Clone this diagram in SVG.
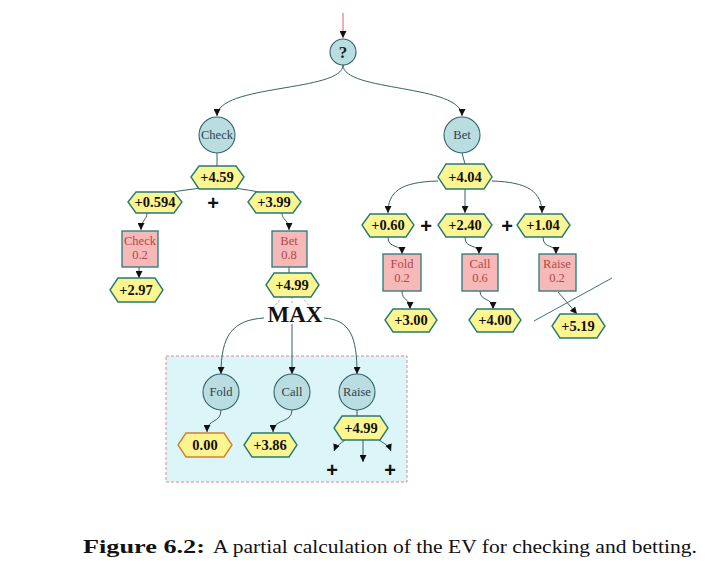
<svg xmlns="http://www.w3.org/2000/svg" width="706" height="570" viewBox="0 0 706 570">
<style>
.circ{fill:#b9dde0;stroke:#35626a;stroke-width:1.1}
.ctext{font-family:"Liberation Serif",serif;font-size:12.5px;fill:#2f3f4a;text-anchor:middle}
.hex{fill:#fdf590;stroke:#257a78;stroke-width:1.4}
.htext{font-family:"Liberation Serif",serif;font-size:14.5px;font-weight:bold;fill:#111;text-anchor:middle}
.rect{fill:#f7b8b8;stroke:#257a78;stroke-width:1.3}
.rtext{font-family:"Liberation Serif",serif;font-size:12.5px;fill:#b04848;text-anchor:middle}
.plus{font-family:"Liberation Sans",sans-serif;font-size:20px;font-weight:bold;fill:#111;text-anchor:middle}
.edge{fill:none;stroke:#3d5f63;stroke-width:1}
.arr{fill:none;stroke:#3d5f63;stroke-width:1;marker-end:url(#ah)}
.dot{fill:none;stroke:#8a9a9a;stroke-width:0.8;stroke-dasharray:2 2}
</style>
<defs>
<marker id="ah" viewBox="0 0 10 10" refX="10" refY="5" markerWidth="7" markerHeight="7" markerUnits="userSpaceOnUse" orient="auto">
<path d="M0,0 L10,5 L0,10 z" fill="#111"/>
</marker>
</defs>
<rect width="706" height="570" fill="#ffffff"/>
<rect id="maxbox" x="166" y="356" width="241" height="126" fill="#dcf5f8" stroke="#e08a8a" stroke-width="1" stroke-dasharray="3 2"/>

<g id="connectors">
<line class="arr" x1="343" y1="13" x2="343" y2="38" style="stroke:#e06060"/>
<path class="arr" d="M343,65 C343,92 217,84 217,116"/>
<path class="arr" d="M343,65 C343,92 462,84 462,116"/>
<line class="edge" x1="217" y1="153" x2="217" y2="166"/>
<line class="edge" x1="462" y1="153" x2="465" y2="164"/>
<path class="edge" d="M200,188 C190,190 180,190 170,193"/>
<path class="edge" d="M235,188 C245,190 252,190 262,193"/>
<path class="arr" d="M147,213 C147,220 141,220 141,230"/>
<line class="arr" x1="139" y1="267" x2="139" y2="278"/>
<path class="arr" d="M282,213 C282,220 289,220 289,230"/>
<line class="edge" x1="289" y1="267" x2="289" y2="273"/>
<path class="dot" d="M282,297 L270,312 M292,297 L292,305 M302,297 L314,312"/>
<path class="arr" d="M264,318 C232,320 221,336 221,374"/>
<line class="arr" x1="292" y1="324" x2="292" y2="374"/>
<path class="arr" d="M324,318 C350,320 357,336 357,374"/>
<path class="arr" d="M221,410 C221,424 207,418 207,432"/>
<path class="arr" d="M292,410 C292,424 273,418 273,432"/>
<line class="edge" x1="357" y1="410" x2="357" y2="416"/>
<path class="arr" d="M345,440 C340,444 336,446 334,451"/>
<line class="arr" x1="363" y1="440" x2="363" y2="462"/>
<path class="arr" d="M379,440 C385,444 389,446 391,451"/>
<path class="arr" d="M438,181 C400,182 388,192 388,213"/>
<line class="arr" x1="465" y1="189" x2="465" y2="213"/>
<path class="arr" d="M492,181 C528,182 542,192 542,213"/>
<path class="arr" d="M388,237 C388,250 402,243 402,254"/>
<path class="arr" d="M465,237 C465,250 479,243 479,254"/>
<path class="arr" d="M543,237 C543,250 556,243 556,254"/>
<path class="arr" d="M402,291 C402,302 410,297 410,309"/>
<path class="arr" d="M480,291 C480,302 493,297 493,309"/>
<line class="arr" x1="558" y1="292" x2="577" y2="314"/>
<line x1="534" y1="321" x2="612" y2="278" stroke="#3d6f80" stroke-width="1"/>
</g>

<g id="root"><circle class="circ" cx="343" cy="52" r="13"/><text x="343" y="58" class="ctext" style="font-size:17px;font-weight:bold;fill:#222">?</text></g>
<g id="check"><circle class="circ" cx="217" cy="135" r="18"/><text x="217" y="139" class="ctext">Check</text></g>
<g id="bet"><circle class="circ" cx="462" cy="135" r="18"/><text x="462" y="139" class="ctext">Bet</text></g>

<g id="v459"><polygon class="hex" points="191,177 199,166 236,166 244,177 236,189 199,189"/><text x="217" y="182" class="htext">+4.59</text></g>
<g id="v0594"><polygon class="hex" points="128,202 136,192 174,192 182,202 174,213 136,213"/><text x="155" y="207" class="htext">+0.594</text></g>
<g id="v399"><polygon class="hex" points="248,202 256,192 293,192 301,202 293,213 256,213"/><text x="274" y="207" class="htext">+3.99</text></g>
<text class="plus" x="213" y="210">+</text>
<g id="pcheck"><rect class="rect" x="122" y="231" width="36" height="36"/><text x="140" y="245" class="rtext">Check</text><text x="140" y="259" class="rtext">0.2</text></g>
<g id="pbet"><rect class="rect" x="272" y="231" width="35" height="36"/><text x="289" y="245" class="rtext">Bet</text><text x="289" y="259" class="rtext">0.8</text></g>
<g id="v297"><polygon class="hex" points="110,290 118,278 155,278 163,290 155,302 118,302"/><text x="136" y="295" class="htext">+2.97</text></g>
<g id="v499a"><polygon class="hex" points="266,285 274,273 311,273 319,285 311,297 274,297"/><text x="292" y="290" class="htext">+4.99</text></g>
<text id="max" x="295" y="322" font-family="Liberation Serif,serif" font-size="23" font-weight="bold" fill="#111" text-anchor="middle">MAX</text>

<g id="fold"><circle class="circ" cx="221" cy="392" r="18"/><text x="221" y="396" class="ctext">Fold</text></g>
<g id="call"><circle class="circ" cx="292" cy="392" r="18"/><text x="292" y="396" class="ctext">Call</text></g>
<g id="raise"><circle class="circ" cx="357" cy="392" r="18"/><text x="357" y="396" class="ctext">Raise</text></g>
<g id="v000"><polygon class="hex" points="178,445 186,433 224,433 232,445 224,457 186,457" style="stroke:#d08030"/><text x="205" y="450" class="htext">0.00</text></g>
<g id="v386"><polygon class="hex" points="244,445 252,433 289,433 297,445 289,457 252,457"/><text x="270" y="450" class="htext">+3.86</text></g>
<g id="v499b"><polygon class="hex" points="334,428 342,416 380,416 388,428 380,440 342,440"/><text x="361" y="433" class="htext">+4.99</text></g>
<text class="plus" x="332" y="477">+</text>
<text class="plus" x="390" y="477">+</text>

<g id="v404"><polygon class="hex" points="438,177 446,164 484,164 492,177 484,189 446,189"/><text x="465" y="182" class="htext">+4.04</text></g>
<g id="v060"><polygon class="hex" points="362,225 370,214 406,214 414,225 406,237 370,237"/><text x="388" y="230" class="htext">+0.60</text></g>
<g id="v240"><polygon class="hex" points="438,225 446,214 484,214 492,225 484,237 446,237"/><text x="465" y="230" class="htext">+2.40</text></g>
<g id="v104"><polygon class="hex" points="517,225 525,214 562,214 570,225 562,237 525,237"/><text x="543" y="230" class="htext">+1.04</text></g>
<text class="plus" x="426" y="233">+</text>
<text class="plus" x="507" y="233">+</text>
<g id="pfold"><rect class="rect" x="383" y="254" width="38" height="37"/><text x="402" y="268" class="rtext">Fold</text><text x="402" y="282" class="rtext">0.2</text></g>
<g id="pcall"><rect class="rect" x="462" y="254" width="36" height="37"/><text x="480" y="268" class="rtext">Call</text><text x="480" y="282" class="rtext">0.6</text></g>
<g id="praise"><rect class="rect" x="539" y="254" width="37" height="37"/><text x="557" y="268" class="rtext">Raise</text><text x="557" y="282" class="rtext">0.2</text></g>
<g id="v300"><polygon class="hex" points="385,320 393,309 429,309 437,320 429,332 393,332"/><text x="411" y="325" class="htext">+3.00</text></g>
<g id="v400"><polygon class="hex" points="469,320 477,309 513,309 521,320 513,332 477,332"/><text x="495" y="325" class="htext">+4.00</text></g>
<g id="v519"><polygon class="hex" points="552,326 560,314 597,314 605,326 597,338 560,338"/><text x="578" y="331" class="htext">+5.19</text></g>

<text id="caption" y="553" font-family="Liberation Serif,serif" font-size="19" fill="#111"><tspan x="83" font-weight="bold" textLength="122" lengthAdjust="spacingAndGlyphs">Figure 6.2:</tspan><tspan x="213" textLength="484" lengthAdjust="spacingAndGlyphs">A partial calculation of the EV for checking and betting.</tspan></text>
</svg>
